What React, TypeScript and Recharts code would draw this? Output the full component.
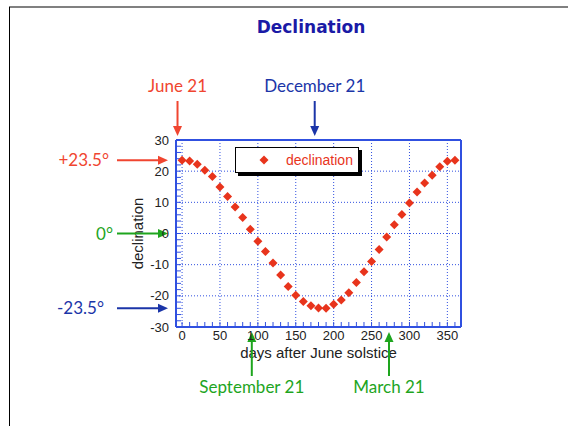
import React from 'react'
import {
  ComposedChart, Scatter, XAxis, YAxis, ReferenceLine, ReferenceDot, Legend,
} from 'recharts'

// days after June solstice, sampled every 10 days
const days = [
  0, 10, 20, 30, 40, 50, 60, 70, 80, 90, 100, 110, 120, 130, 140, 150, 160, 170, 180,
  190, 200, 210, 220, 230, 240, 250, 260, 270, 280, 290, 300, 310, 320, 330, 340, 350, 360,
]
// declination (degrees)
const declination = [
  23.5, 23.3, 22.2, 20.3, 18.3, 14.9, 11.9, 8.5, 5.1, 1.4, -2.5, -5.8, -9.5, -13.3, -17.0, -19.8, -21.8, -23.2, -23.9,
  -24.0, -22.7, -21.3, -19.0, -15.7, -12.3, -9.0, -5.1, -1.1, 2.8, 6.1, 9.8, 13.3, 16.2, 18.7, 21.4, 23.2, 23.5,
]

const xTicks = [
  0, 10, 20, 30, 40, 50, 60, 70, 80, 90, 100, 110, 120, 130, 140, 150, 160, 170, 180,
  190, 200, 210, 220, 230, 240, 250, 260, 270, 280, 290, 300, 310, 320, 330, 340, 350, 360,
]
const xLabels = [0, 50, 100, 150, 200, 250, 300, 350]
const yTicks = [
  -30, -28, -26, -24, -22, -20, -18, -16, -14, -12, -10, -8, -6, -4, -2, 0,
  2, 4, 6, 8, 10, 12, 14, 16, 18, 20, 22, 24, 26, 28, 30,
]
const yLabels = [-30, -20, -10, 0, 10, 20, 30]
const gridX = [0, 50, 100, 150, 200, 250, 300, 350]
const gridY = [-20, -10, 0, 10, 20]

const RED = '#f04530'
const DOT = '#e8341c'
const BLUE = '#1b35a8'
const GREEN = '#1ea51e'
const FRAME = '#3050e0'

// arrows pointing at the axes (top / bottom / left)
const marks = [
  { text: 'June 21', day: -6, value: 30, side: 'top', color: RED },
  { text: 'December 21', day: 175, value: 30, side: 'top', color: BLUE },
  { text: 'September 21', day: 92, value: -30, side: 'bottom', color: GREEN },
  { text: 'March 21', day: 273, value: -30, side: 'bottom', color: GREEN },
  { text: '+23.5°', day: -8, value: 23.5, side: 'left', color: RED, dx: -67 },
  { text: '0°', day: -8, value: 0, side: 'left', color: GREEN, dx: -63 },
  { text: '-23.5°', day: -8, value: -24, side: 'left', color: BLUE, dx: -72 },
]

const points = days.map((d, i) => ({ day: d, dec: declination[i] }))

const annoFont = 'Lato, "Open Sans", sans-serif'
const axisFont = '"Liberation Sans", Arial, sans-serif'

function Arrow({ cx, cy, m }: any) {
  if (m.side === 'left') {
    const tip = cx - 8
    return (
      <g>
        <line x1={cx - 59} y1={cy} x2={tip - 8} y2={cy} stroke={m.color} strokeWidth={2} />
        <polygon points={`${tip},${cy} ${tip - 10},${cy - 4.5} ${tip - 10},${cy + 4.5}`} fill={m.color} />
        <text x={cx + m.dx} y={cy + 6} textAnchor="end" fill={m.color} fontSize={17} fontFamily={annoFont}>{m.text}</text>
      </g>
    )
  }
  if (m.side === 'top') {
    const tip = cy - 4
    return (
      <g>
        <line x1={cx} y1={cy - 39} x2={cx} y2={tip - 8} stroke={m.color} strokeWidth={2} />
        <polygon points={`${cx},${tip} ${cx - 4.5},${tip - 10} ${cx + 4.5},${tip - 10}`} fill={m.color} />
        <text x={cx} y={cy - 48} textAnchor="middle" fill={m.color} fontSize={17} fontFamily={annoFont}>{m.text}</text>
      </g>
    )
  }
  const tip = cy + 5
  return (
    <g>
      <line x1={cx} y1={cy + 49} x2={cx} y2={tip + 8} stroke={m.color} strokeWidth={2} />
      <polygon points={`${cx},${tip} ${cx - 4.5},${tip + 10} ${cx + 4.5},${tip + 10}`} fill={m.color} />
      <text x={cx} y={cy + 66} textAnchor="middle" fill={m.color} fontSize={17} fontFamily={annoFont}>{m.text}</text>
    </g>
  )
}

function Diamond({ cx, cy }: any) {
  const r = 4.5
  return <polygon points={`${cx},${cy - r} ${cx + r},${cy} ${cx},${cy + r} ${cx - r},${cy}`} fill={DOT} />
}

function XTick({ x, y, payload }: any) {
  if (!xLabels.includes(payload.value)) return <g />
  return (
    <text x={x} y={y + 16} textAnchor="middle" fill="#222" fontSize={13} fontFamily={axisFont}>{payload.value}</text>
  )
}

function YTick({ x, y, payload }: any) {
  if (!yLabels.includes(payload.value)) return <g />
  return (
    <text x={x - 10} y={y + 4.5} textAnchor="end" fill="#222" fontSize={13} fontFamily={axisFont}>{payload.value}</text>
  )
}

function LegendBox() {
  return (
    <div style={{
      width: 122, height: 24, border: '1px solid #000', background: '#fff',
      boxShadow: '3px 3px 0 #000', position: 'relative', fontFamily: axisFont,
    }}>
      <svg width={20} height={20} style={{ position: 'absolute', left: 18, top: 2 }}>
        <Diamond cx={10} cy={10} />
      </svg>
      <span style={{ position: 'absolute', left: 50, top: 4, fontSize: 14, color: DOT, lineHeight: '16px' }}>declination</span>
    </div>
  )
}

export default function App() {
  return (
    <div style={{ position: 'absolute', left: 0, top: 0, width: 568, height: 426, background: '#fff', overflow: 'hidden' }}>
      <div style={{ position: 'absolute', left: 9, top: 6, width: 559, height: 2, background: '#808080' }} />
      <div style={{ position: 'absolute', left: 9, top: 7, width: 1, height: 419, background: '#000' }} />
      <div style={{
        position: 'absolute', left: 0, top: 17, width: 622, textAlign: 'center',
        fontFamily: '"DejaVu Sans", sans-serif', fontWeight: 'bold', fontSize: 17, color: '#1a1aa6',
      }}>Declination</div>

      <ComposedChart width={568} height={426} data={points} margin={{ top: 139, right: 106, bottom: 69, left: 126 }}>
        <XAxis
          xAxisId="b" type="number" dataKey="day" domain={[-8, 368]} ticks={xTicks} interval={0}
          tickSize={-5} height={30} allowDataOverflow
          axisLine={{ stroke: FRAME, strokeWidth: 2 }} tickLine={{ stroke: FRAME }}
          tick={XTick}
          label={(p: any) => (
            <text x={p.viewBox.x + p.viewBox.width / 2} y={p.viewBox.y + 31} textAnchor="middle"
              fill="#222" fontSize={15} fontFamily={axisFont}>days after June solstice</text>
          )}
        />
        <XAxis
          xAxisId="t" orientation="top" type="number" domain={[-8, 368]} ticks={xTicks} interval={0}
          tickSize={-5} height={1} tick={false} allowDataOverflow
          axisLine={{ stroke: FRAME, strokeWidth: 2 }} tickLine={{ stroke: FRAME }}
        />
        <YAxis
          yAxisId="l" type="number" domain={[-30, 30]} ticks={yTicks} interval={0}
          tickSize={-5} width={50} allowDataOverflow
          axisLine={{ stroke: FRAME, strokeWidth: 2 }} tickLine={{ stroke: FRAME }}
          tick={YTick}
          label={(p: any) => {
            const cx = p.viewBox.x + 11
            const cy = p.viewBox.y + p.viewBox.height / 2
            return (
              <text x={cx} y={cy} transform={`rotate(-90 ${cx} ${cy})`} textAnchor="middle" dominantBaseline="central"
                fill="#222" fontSize={15} fontFamily={axisFont}>declination</text>
            )
          }}
        />
        <YAxis
          yAxisId="r" orientation="right" type="number" domain={[-30, 30]} ticks={yTicks} interval={0}
          tickSize={-5} width={1} tick={false} allowDataOverflow
          axisLine={{ stroke: FRAME, strokeWidth: 2 }} tickLine={{ stroke: FRAME }}
        />

        {gridX.map(v => (
          <ReferenceLine key={'gx' + v} xAxisId="b" yAxisId="l" x={v} stroke={FRAME} strokeDasharray="1 2" />
        ))}
        {gridY.map(v => (
          <ReferenceLine key={'gy' + v} xAxisId="b" yAxisId="l" y={v} stroke={FRAME} strokeDasharray="1 2" />
        ))}

        <Legend
          layout="vertical" align="center" verticalAlign="middle"
          wrapperStyle={{ left: 235, top: 147, width: 130, height: 30 }}
          content={() => <LegendBox />}
        />

        <Scatter xAxisId="b" yAxisId="l" name="declination" data={points} dataKey="dec"
          fill={DOT} shape={Diamond} isAnimationActive={false} />

        {marks.map(m => (
          <ReferenceDot key={m.text} xAxisId="b" yAxisId="l" x={m.day} y={m.value} ifOverflow="visible"
            shape={(p: any) => <Arrow cx={p.cx} cy={p.cy} m={m} />} />
        ))}
      </ComposedChart>
    </div>
  )
}
